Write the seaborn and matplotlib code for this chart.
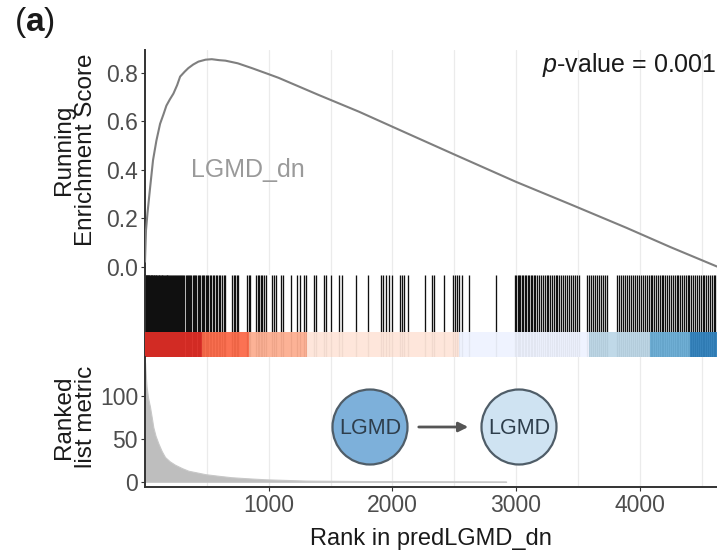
import numpy as np
import pandas as pd
import matplotlib
matplotlib.use("Agg")
import matplotlib.pyplot as plt
import matplotlib.transforms as mtransforms
import seaborn as sns
from matplotlib.patches import Circle, FancyArrowPatch

# ---------------- data ----------------
es_rank = [0, 8, 20, 40, 65, 92, 122, 150, 173, 200, 230, 260, 284, 320, 350, 390,
           432, 490, 540, 600, 650, 750, 865, 1000, 1080, 1400, 1730, 2100, 2515,
           3000, 3450, 3893, 4250, 4625]
es_value = [0.02, 0.15, 0.22, 0.32, 0.44, 0.52, 0.59, 0.63, 0.665, 0.69, 0.715, 0.75,
            0.785, 0.805, 0.82, 0.835, 0.847, 0.855, 0.857, 0.853, 0.851, 0.84, 0.82,
            0.795, 0.78, 0.71, 0.64, 0.555, 0.46, 0.35, 0.255, 0.16, 0.08, 0.0]

metric_rank = [0, 6, 13, 25, 40, 55, 67, 85, 108, 135, 162, 200, 243, 300, 351, 420,
               487, 600, 700, 850, 973, 1150, 1300, 1800, 2400, 2920]
metric_value = [140, 125, 111, 98, 88, 75, 64, 54, 45, 36, 29, 24, 20, 16, 13, 11,
                9, 7, 5.4, 4, 3, 2.2, 1.5, 0.9, 0.6, 0.4]

hit_ranks = [1, 5, 9, 14, 18, 23, 27, 31, 36, 40, 46, 51, 55, 60, 66, 70, 75, 81, 86,
             92, 97, 103, 110, 116, 121, 128, 134, 140, 147, 153, 160, 167, 174, 180,
             188, 195, 203, 210, 218, 226, 233, 241, 250, 258, 266, 275, 284, 292, 301,
             310, 318, 328, 337, 346, 356, 366, 375, 385, 396, 405, 415, 426, 436, 447,
             458, 468, 479, 490, 502, 513, 525, 536, 548, 560, 572, 585, 597, 610, 623,
             636, 648,
             705, 718, 730, 745, 756, 825, 840, 852, 897, 910, 925, 935, 945, 960, 975,
             1028, 1045, 1062, 1100, 1118, 1178, 1230, 1250, 1288, 1305, 1368, 1385,
             1450, 1466, 1503, 1570, 1590, 1706, 1800, 1910, 1925, 1945, 1975, 1995,
             2058, 2075, 2092, 2125, 2265, 2318, 2335, 2419, 2488, 2505, 2520, 2540,
             2560, 2622, 2841,
             2990, 3000, 3012, 3025, 3035, 3048, 3058, 3070, 3082, 3095, 3105, 3118,
             3130, 3142, 3155, 3170, 3183, 3200, 3215, 3232, 3250, 3262, 3278, 3290,
             3305, 3320, 3335, 3350, 3365, 3380, 3395, 3410, 3428, 3445, 3460, 3478,
             3495, 3510, 3575, 3590, 3605, 3620, 3638, 3655, 3670, 3688, 3705, 3720,
             3735, 3820, 3835, 3850, 3865, 3880, 3895, 3912, 3928, 3945, 3960, 3975,
             3992, 4008, 4025, 4040, 4055, 4072, 4088, 4102, 4118, 4132, 4148, 4162,
             4178, 4192, 4208, 4222, 4238, 4252, 4268, 4282, 4298, 4312, 4328, 4342,
             4358, 4372, 4388, 4402, 4418, 4432, 4448, 4462, 4478, 4492, 4508, 4522,
             4538, 4552, 4568, 4582, 4598, 4612]

bin_edges = [0, 457, 838, 1308, 2540, 3594, 4080, 4404, 4625]
bin_colors = ["#DE2D26", "#FB6A4A", "#FCAE91", "#FEE5D9", "#EFF3FF", "#BDD7E7",
              "#6BAED6", "#3182BD"]

x_max = 4625
x_ticks = [1000, 2000, 3000, 4000]
es_ticks = [0.0, 0.2, 0.4, 0.6, 0.8]
metric_ticks = [0, 50, 100]
gene_set = "LGMD_dn"
p_text = "$p$-value = 0.001"
x_title = "Rank in predLGMD_dn"

# ---------------- style ----------------
sns.set_theme(style="ticks")
plt.rcParams["font.family"] = ["Liberation Sans", "DejaVu Sans"]
plt.rcParams["mathtext.fontset"] = "custom"
plt.rcParams["mathtext.rm"] = "Liberation Sans"
plt.rcParams["mathtext.it"] = "Liberation Sans:italic"
plt.rcParams["mathtext.bf"] = "Liberation Sans:bold"

W, H = 717, 551
fig = plt.figure(figsize=(W / 100, H / 100), dpi=100)

def fx(px):
    return px / W

def fy(py):
    return 1 - py / H

L, R = 145, 717
ax1 = fig.add_axes([fx(L), fy(275), fx(R) - fx(L), fy(50) - fy(275)])
ax2 = fig.add_axes([fx(L), fy(357), fx(R) - fx(L), fy(275) - fy(357)])
ax3 = fig.add_axes([fx(L), fy(487), fx(R) - fx(L), fy(357) - fy(487)])

tick_col = "#4D4D4D"
spine_col = "#333333"
grid_col = "#EBEBEB"
minor_ticks = [500, 1500, 2500, 3500, 4500]

for ax in (ax1, ax2, ax3):
    ax.set_xlim(0, x_max)
    for s in ("top", "right", "bottom"):
        ax.spines[s].set_visible(False)
    ax.spines["left"].set_color(spine_col)
    ax.spines["left"].set_linewidth(1.4)
    ax.set_facecolor("white")

# ---- top panel: running enrichment score ----
for xv in x_ticks + minor_ticks:
    ax1.axvline(xv, color=grid_col, lw=0.9, zorder=0)
es_df = pd.DataFrame({"rank": es_rank, "es": es_value})
sns.lineplot(data=es_df, x="rank", y="es", ax=ax1, color="#7F7F7F", lw=1.5,
             zorder=3)
ax1.set_ylim(-0.035, 0.895)
ax1.set_yticks(es_ticks)
ax1.set_yticklabels([f"{v:.1f}" for v in es_ticks])
ax1.set_xticks([])
ax1.set_xlabel("")
ax1.set_ylabel("")
ax1.tick_params(axis="y", labelsize=16.5, colors=spine_col, labelcolor=tick_col,
                length=3, width=0.8, pad=2)
ax1.text(375, 0.40, gene_set, fontsize=18, color="#9A9A9A", ha="left", va="center")
ax1.text(0.999, 0.833, p_text,
         transform=mtransforms.blended_transform_factory(ax1.transAxes, ax1.transData),
         fontsize=18, color="#1A1A1A", ha="right", va="center")

# ---- middle panel: barcode + colour bar ----
ax2.vlines(hit_ranks, 0, 1, color="#101010", lw=0.95, zorder=2)
lefts = bin_edges[:-1]
widths = [b - a for a, b in zip(bin_edges[:-1], bin_edges[1:])]
ax2.bar(lefts, [0.3] * len(lefts), width=widths, align="edge", color=bin_colors,
        alpha=0.95, lw=0, zorder=3)
ax2.set_ylim(0, 1)
ax2.set_xticks([])
ax2.set_yticks([])

# ---- bottom panel: ranked list metric ----
for xv in x_ticks + minor_ticks:
    ax3.axvline(xv, color=grid_col, lw=0.9, zorder=0)
ax3.fill_between(metric_rank, metric_value, 0, color="#BEBEBE", lw=0.8,
                 edgecolor="#C8C8C8", zorder=2)
ax3.spines["bottom"].set_visible(True)
ax3.spines["bottom"].set_color(spine_col)
ax3.spines["bottom"].set_linewidth(1.4)
ax3.set_ylim(-6, 146)
ax3.set_yticks(metric_ticks)
ax3.set_xticks(x_ticks)
ax3.tick_params(axis="both", labelsize=16.5, colors=spine_col, labelcolor=tick_col,
                length=3, width=0.8, pad=2)
ax3.set_xlabel(x_title, fontsize=17, color="#1A1A1A", labelpad=8)
ax3.set_ylabel("")

# ---- y titles ----
fig.text(fx(75), fy(150), "Running\nEnrichment Score", rotation=90, fontsize=17.5,
         ha="center", va="center", linespacing=0.95, color="#1A1A1A")
fig.text(fx(75), fy(417), "Ranked\nlist metric", rotation=90, fontsize=17.5,
         ha="center", va="center", linespacing=0.95, color="#1A1A1A")
fig.text(fx(34), fy(23), r"($\mathbf{a}$)", fontsize=24, ha="center", va="center",
         color="#1A1A1A")

# ---- schematic overlay ----
ov = fig.add_axes([0, 0, 1, 1])
ov.set_xlim(0, W)
ov.set_ylim(H, 0)
ov.axis("off")
ov.patch.set_alpha(0)
ov.add_patch(Circle((370, 427), 37.5, facecolor="#7DB0DA", edgecolor="#4F5D68",
                    lw=1.6))
ov.add_patch(Circle((519, 427), 37.5, facecolor="#CFE3F2", edgecolor="#4F5D68",
                    lw=1.6))
ov.text(370, 428, "LGMD", fontsize=15.5, color="#2E3E4C", ha="center", va="center")
ov.text(519, 428, "LGMD", fontsize=15.5, color="#2E3E4C", ha="center", va="center")
ov.add_patch(FancyArrowPatch((416, 427), (471, 427), arrowstyle="-|>",
                             mutation_scale=14, color="#555555", lw=2))

fig.savefig("out.png", dpi=100)
